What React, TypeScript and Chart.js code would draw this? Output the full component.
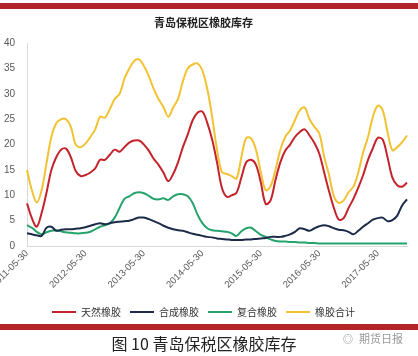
import React, { useEffect, useRef } from "react";
import { Chart, registerables } from "chart.js";

Chart.register(...registerables);

const dates = [
  "2011-05-30","2011-06-30","2011-07-30","2011-08-30","2011-09-30","2011-10-30","2011-11-30","2011-12-30",
  "2012-01-30","2012-02-28","2012-03-30","2012-04-30","2012-05-30","2012-06-30","2012-07-30","2012-08-30","2012-09-30","2012-10-30","2012-11-30","2012-12-30",
  "2013-01-30","2013-02-28","2013-03-30","2013-04-30","2013-05-30","2013-06-30","2013-07-30","2013-08-30","2013-09-30","2013-10-30","2013-11-30","2013-12-30",
  "2014-01-30","2014-02-28","2014-03-30","2014-04-30","2014-05-30","2014-06-30","2014-07-30","2014-08-30","2014-09-30","2014-10-30","2014-11-30","2014-12-30",
  "2015-01-30","2015-02-28","2015-03-30","2015-04-30","2015-05-30","2015-06-30","2015-07-30","2015-08-30","2015-09-30","2015-10-30","2015-11-30","2015-12-30",
  "2016-01-30","2016-02-28","2016-03-30","2016-04-30","2016-05-30","2016-06-30","2016-07-30","2016-08-30","2016-09-30","2016-10-30","2016-11-30","2016-12-30",
  "2017-01-30","2017-02-28","2017-03-30","2017-04-30","2017-05-30","2017-06-30","2017-07-30","2017-08-30","2017-09-30","2017-10-30","2017-11-30",
];

const tickLabels = ["2011-05-30","2012-05-30","2013-05-30","2014-05-30","2015-05-30","2016-05-30","2017-05-30"];

const natural = [
  8.4,5.5,3.8,6.5,10.5,15,17.5,19,19.2,17.5,
  14.8,13.8,14,14.5,15.3,17,17,18,19,18.6,
  19.5,20.4,20.8,20.8,20,18.8,17.2,16,14.5,12.8,
  14.2,16.5,19.5,22,24.8,26.3,26.5,24.3,21,16.5,
  11.5,9.7,10,10.5,13.5,16.5,17,16,12.5,8.3,
  9,13,16.5,18.8,20,21.5,22.5,23,21.8,20.3,
  18.2,14.5,10.8,7.5,5.2,5.5,7.5,9.3,11.5,14,
  17,19.3,21.3,21,17.5,13.5,12,11.7,12.5,
];

const synthetic = [
  2.5,2.3,2.1,2.0,3.6,3.8,3.0,3.2,3.3,3.3,
  3.4,3.5,3.7,4.0,4.3,4.5,4.3,4.5,4.7,4.8,
  4.9,5.0,5.3,5.6,5.6,5.3,4.9,4.5,4.0,3.6,
  3.3,3.1,3.0,2.7,2.4,2.2,2.0,1.8,1.7,1.5,
  1.4,1.3,1.2,1.2,1.2,1.3,1.3,1.4,1.5,1.6,
  1.8,1.8,1.8,2.0,2.3,2.8,3.5,3.3,3.0,3.5,
  3.9,4.1,3.9,3.5,3.2,3.1,2.8,2.3,3.0,3.8,
  4.5,5.2,5.5,5.6,4.9,5.1,6.0,8.0,9.2,
];

const compound = [
  4.1,3.6,2.8,2.3,2.7,3.0,3.1,2.9,2.7,2.6,
  2.5,2.5,2.6,2.8,3.3,3.8,4.1,4.5,5.6,7.5,
  9.3,9.8,10.4,10.6,10.4,9.9,9.3,9.2,9.4,9.1,
  9.8,10.2,10.2,9.8,8.5,6.2,4.5,3.5,3.1,3.0,
  2.9,2.8,2.5,2.0,2.9,3.5,3.6,2.9,2.2,1.8,
  1.3,1.0,0.9,0.9,0.8,0.8,0.7,0.7,0.6,0.6,
  0.5,0.5,0.5,0.5,0.5,0.5,0.5,0.5,0.5,0.5,
  0.5,0.5,0.5,0.5,0.5,0.5,0.5,0.5,0.5,
];

const total = [
  15,11,8.6,11,16.3,21.5,24.2,25,25,23.5,
  20,19.5,20.2,21.5,23,25.5,25.3,27,29,30,
  33,35,36.5,36.8,35.5,33.5,31,29,27.4,25.5,
  27.3,29,32.5,35,35.8,36,34.6,31,25.5,19,
  14.6,14.2,13.8,13.3,17.5,21.3,21.2,19,14.5,11,
  11.8,15,19,21.5,22.8,24.8,26.8,27.3,25,23.5,
  22.2,17.6,14,9.8,8.5,9,10.6,11.7,14.5,18.5,
  21.5,25.5,27.7,26.8,22.5,18.9,19.5,20.5,21.8,
];

const seriesNames = ["天然橡胶", "合成橡胶", "复合橡胶", "橡胶合计"];
const seriesColors = ["#C4232B", "#1C2B48", "#25A36C", "#F2C232"];

const FONT = "Arial, 'Liberation Sans', 'Noto Sans CJK SC', sans-serif";
const CJK = "'Noto Sans CJK SC', 'Liberation Sans', sans-serif";

export default function App() {
  const canvasRef = useRef<HTMLCanvasElement | null>(null);

  useEffect(() => {
    const canvas = canvasRef.current;
    if (!canvas) return;
    const values = [natural, synthetic, compound, total];
    const chart = new Chart(canvas, {
      type: "line",
      data: {
        labels: dates,
        datasets: values.map((d, i) => ({
          label: seriesNames[i],
          data: d,
          borderColor: seriesColors[i],
          backgroundColor: seriesColors[i],
          borderWidth: 2,
          pointRadius: 0,
          tension: 0.35,
          fill: false,
        })),
      },
      options: {
        responsive: false,
        animation: false,
        devicePixelRatio: 1,
        layout: { padding: { left: 0, right: 11, top: 0, bottom: 0 } },
        plugins: {
          title: {
            display: true,
            text: "青岛保税区橡胶库存",
            color: "#222",
            font: { family: CJK, size: 11, weight: "bold" },
            padding: { top: 6, bottom: 14 },
          },
          legend: {
            position: "bottom",
            labels: {
              usePointStyle: true,
              pointStyle: "line",
              pointStyleWidth: 24,
              padding: 9,
              color: "#333",
              font: { family: CJK, size: 10 },
            },
          },
          tooltip: { enabled: false },
        },
        scales: {
          x: {
            type: "category",
            grid: { display: false, drawTicks: false },
            border: { display: true, color: "#d9d9d9", width: 1 },
            ticks: {
              autoSkip: false,
              minRotation: 45,
              maxRotation: 45,
              padding: 2,
              color: "#595959",
              font: { family: FONT, size: 9.5 },
              callback: (_v: any, idx: number) =>
                tickLabels.includes(dates[idx]) ? dates[idx] : "",
            },
            afterFit: (scale: any) => {
              scale.paddingLeft = 0;
              scale.paddingRight = 0;
              scale.height = 52;
            },
          },
          y: {
            min: 0,
            max: 40,
            grid: { display: false, drawTicks: false },
            border: { display: true, color: "#d9d9d9", width: 1 },
            ticks: {
              stepSize: 5,
              padding: 12,
              color: "#595959",
              font: { family: FONT, size: 10 },
            },
            afterFit: (scale: any) => {
              scale.width = 27;
            },
          },
        },
      },
    });
    return () => chart.destroy();
  }, []);

  return (
    <div
      style={{
        position: "absolute",
        left: 0,
        top: 0,
        width: 418,
        height: 356,
        background: "#fff",
        overflow: "hidden",
      }}
    >
      <canvas
        ref={canvasRef}
        width={418}
        height={317}
        style={{ position: "absolute", left: 0, top: 10, width: 418, height: 317 }}
      />
      <div style={{ position: "absolute", left: 0, top: 3, width: 418, height: 6, background: "#B3242A" }} />
      <div style={{ position: "absolute", left: 0, top: 324, width: 418, height: 6, background: "#B3242A" }} />
      <div
        style={{
          position: "absolute",
          left: 0,
          width: 408,
          top: 332,
          textAlign: "center",
          fontFamily: CJK,
          fontSize: 16,
          lineHeight: "22px",
          color: "#222",
        }}
      >
        图 10 青岛保税区橡胶库存
      </div>
      <div
        style={{
          position: "absolute",
          left: 343,
          top: 331,
          fontFamily: CJK,
          fontSize: 11,
          lineHeight: "14px",
          color: "#999",
          whiteSpace: "nowrap",
        }}
      >
        <span style={{ marginRight: 6, fontSize: 10 }}>◎</span>期货日报
      </div>
    </div>
  );
}
